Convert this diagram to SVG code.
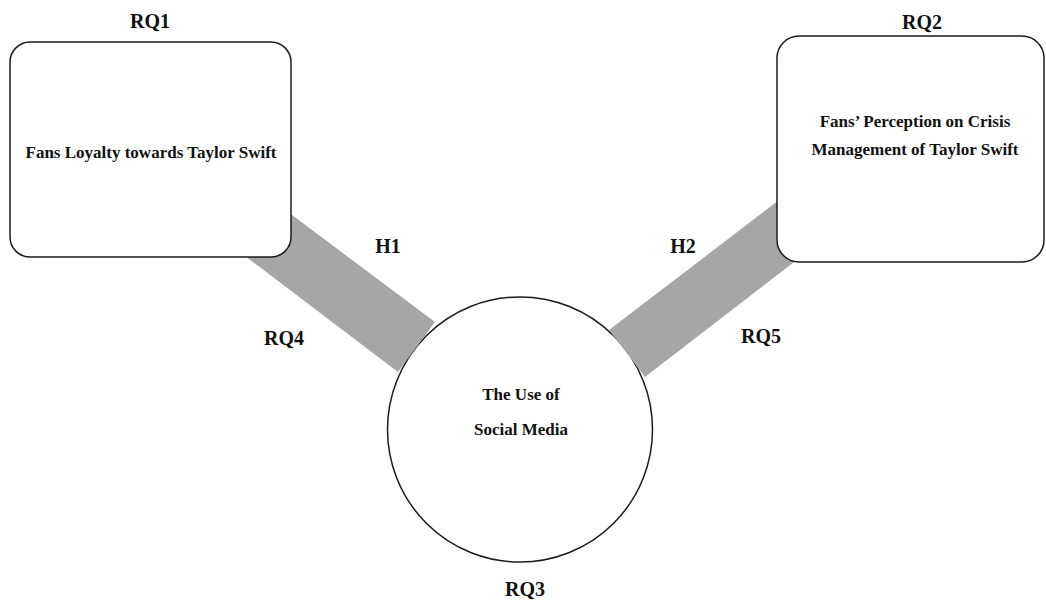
<svg xmlns="http://www.w3.org/2000/svg" width="1046" height="603" viewBox="0 0 1046 603">
  <style>
    .box { fill: #ffffff; stroke: #1a1a1a; stroke-width: 1.5; }
    .band { fill: #a6a6a6; stroke: none; }
    .lbl { font-family: "Liberation Serif", "Times New Roman", serif; font-weight: bold; font-size: 20px; fill: #111111; text-anchor: middle; }
    .txt { font-family: "Liberation Serif", "Times New Roman", serif; font-weight: bold; font-size: 17px; fill: #111111; text-anchor: middle; }
  </style>

  <!-- central node -->
  <g id="social-media">
    <circle class="box" cx="520" cy="429.5" r="132.5"/>
    <text class="txt" x="521" y="400">The Use of</text>
    <text class="txt" x="521" y="435">Social Media</text>
    <text class="lbl" x="525" y="596">RQ3</text>
  </g>

  <!-- connecting bands -->
  <g id="connectors">
    <polygon class="band" points="260,191 435,322 398,372 220,237"/>
    <polygon class="band" points="609,330 800,184 820,242 645,377"/>
    <text class="lbl" x="388" y="253">H1</text>
    <text class="lbl" x="284" y="345">RQ4</text>
    <text class="lbl" x="683" y="253">H2</text>
    <text class="lbl" x="761" y="343">RQ5</text>
  </g>

  <g id="loyalty">
    <rect class="box" x="10" y="42" width="281" height="215" rx="20" ry="20"/>
    <text class="lbl" x="150" y="28">RQ1</text>
    <text class="txt" x="151" y="158">Fans Loyalty towards Taylor Swift</text>
  </g>

  <g id="perception">
    <rect class="box" x="777" y="36" width="267" height="226" rx="22" ry="22"/>
    <text class="lbl" x="922" y="29">RQ2</text>
    <text class="txt" x="915" y="127">Fans’ Perception on Crisis</text>
    <text class="txt" x="915" y="155">Management of Taylor Swift</text>
  </g>
</svg>
